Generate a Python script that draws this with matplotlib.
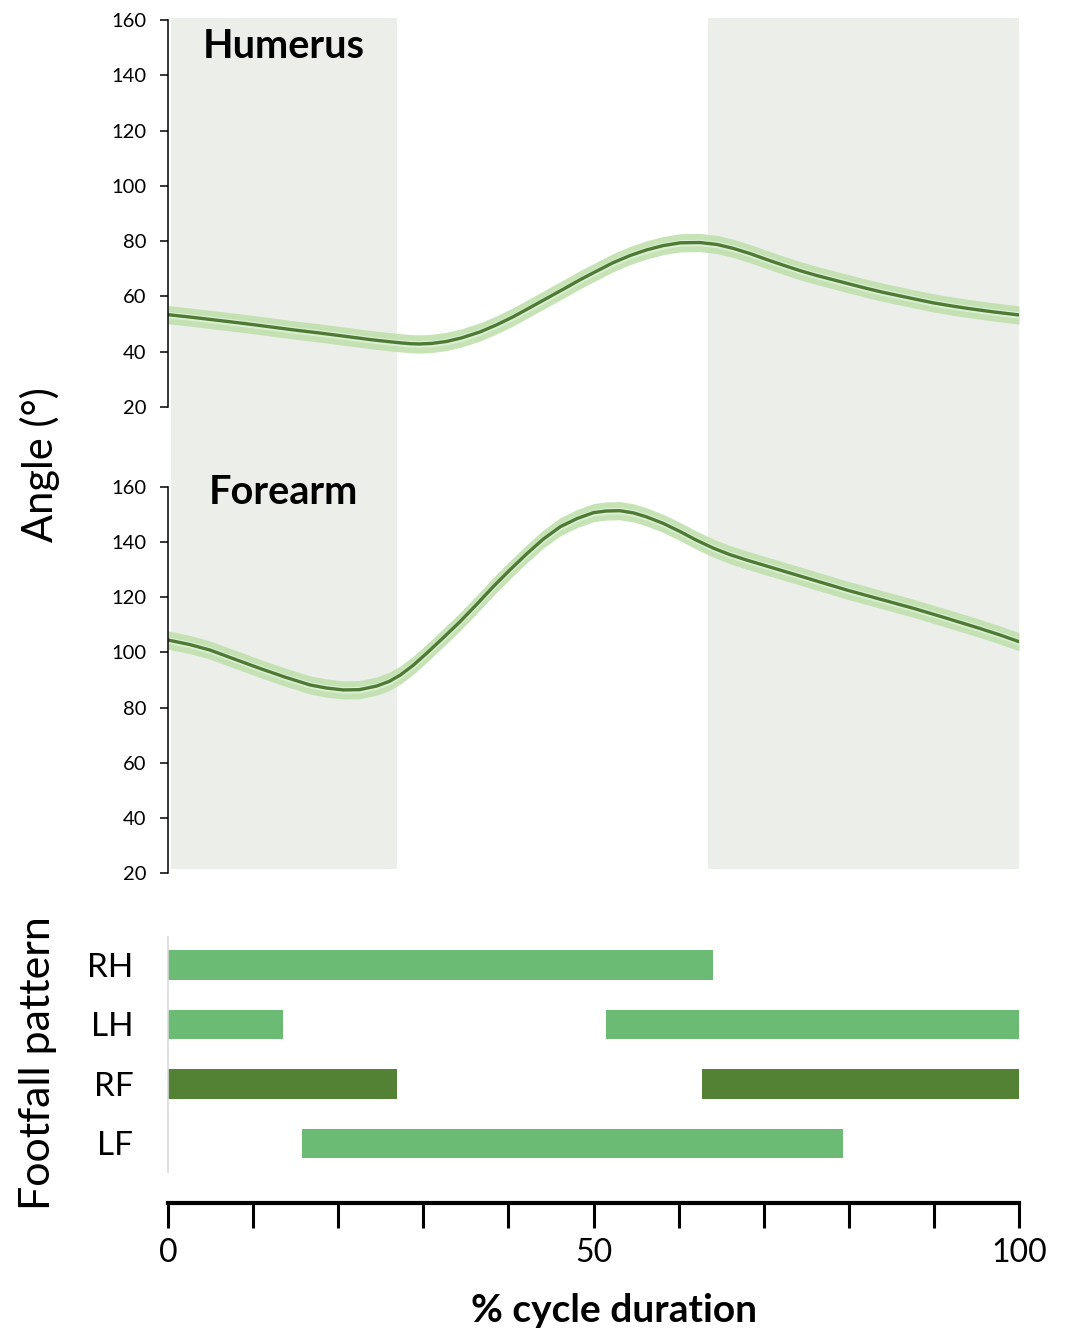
import numpy as np
import matplotlib
matplotlib.use('Agg')
import matplotlib.pyplot as plt

plt.rcParams['font.family'] = ['Lato', 'DejaVu Sans']

# %% data
hum_x = [0, 3, 6, 9, 12, 15, 18, 21, 24, 27, 28.5, 29.6, 31, 32.7, 34.5, 36.7,
         38.6, 40.6, 42.5, 44.5, 46.5, 48.4, 50.4, 52.3, 54.3, 56.2, 58.2, 60.2,
         62.5, 64.5, 66.4, 68.4, 70.3, 72.3, 74.3, 76.2, 78.2, 80.2, 82.1, 84,
         86, 88, 89.9, 92, 93.9, 97, 100]
hum_y = [53.4, 52.4, 51.3, 50.2, 49.0, 47.8, 46.7, 45.5, 44.3, 43.3, 42.9, 42.8,
         43.0, 43.7, 45.0, 47.2, 49.7, 52.7, 55.9, 59.3, 62.7, 66.0, 69.2, 72.2,
         74.8, 76.8, 78.4, 79.4, 79.5, 78.8, 77.4, 75.5, 73.4, 71.3, 69.3, 67.6,
         66.0, 64.4, 62.9, 61.5, 60.2, 58.9, 57.7, 56.6, 55.7, 54.4, 53.3]

fore_x = [0, 2.5, 4.9, 7.8, 10.8, 13.8, 16.7, 18.6, 20.6, 22.5, 24.5, 26, 27.3,
          28.8, 30.4, 32.3, 34.3, 36.3, 38.2, 40.2, 42.2, 44.1, 46.1, 48.1, 50.0,
          51.5, 53.1, 54.7, 56.2, 58.2, 60.2, 62.1, 64.1, 66, 68, 71.9, 75.8,
          79.8, 83.7, 87.6, 91.5, 95.4, 97.7, 100]
fore_y = [104.5, 102.9, 100.9, 97.6, 94.2, 91.0, 88.2, 87.1, 86.4, 86.5, 87.8,
          89.5, 91.8, 95.3, 99.7, 105.2, 111.1, 117.5, 123.8, 130.0, 135.9, 141.1,
          145.6, 148.6, 150.7, 151.3, 151.4, 150.6, 149.2, 146.8, 143.8, 140.7,
          137.8, 135.5, 133.5, 129.9, 126.3, 122.6, 119.3, 116.0, 112.4, 108.7,
          106.4, 103.9]
band = 3.3  # half width of the light band

limbs = ['RH', 'LH', 'RF', 'LF']
stance = {'RH': [(0, 64.0)],
          'LH': [(0, 13.5), (51.5, 100)],
          'RF': [(0, 26.9), (62.7, 100)],
          'LF': [(15.7, 79.3)]}
shaded = [(0.4, 26.9), (63.4, 100)]

angle_ticks = [20, 40, 60, 80, 100, 120, 140, 160]

c_light = '#6bbb75'
c_dark = '#548235'
c_line = '#4e7a36'
c_band = '#bcdfa9'
c_band_in = '#dcefd2'
c_shade = '#eceeea'

W, H = 1073, 1337


def px_rect(left, top, right, bottom):
    return [left / W, 1 - bottom / H, (right - left) / W, (bottom - top) / H]


fig = plt.figure(figsize=(W / 100, H / 100), dpi=100)

# shaded stance periods behind both angle panels
ax_bg = fig.add_axes(px_rect(168, 18, 1019, 869))
for a, b in shaded:
    ax_bg.axvspan(a, b, color=c_shade, lw=0)
ax_bg.set_xlim(0, 100)
ax_bg.set_ylim(0, 1)
ax_bg.axis('off')


def angle_panel(rect, x, y, name, name_y):
    ax = fig.add_axes(rect)
    ax.patch.set_alpha(0)
    x = np.asarray(x)
    y = np.asarray(y)
    ax.fill_between(x, y - band, y + band, color=c_band, lw=0, alpha=0.85)
    ax.fill_between(x, y - 1.2, y + 1.2, color=c_band_in, lw=0)
    ax.plot(x, y, color=c_line, lw=2.4, solid_capstyle='round')
    ax.set_xlim(0, 100)
    ax.set_ylim(20, 160)
    ax.set_yticks(angle_ticks)
    ax.set_xticks([])
    for s in ['top', 'right', 'bottom']:
        ax.spines[s].set_visible(False)
    ax.spines['left'].set_linewidth(1.1)
    ax.tick_params(axis='y', length=5.5, width=1.1, pad=10, labelsize=14.5)
    ax.text(13.6, name_y, name, ha='center', va='baseline', fontsize=28.5,
            fontweight='bold')
    return ax


angle_panel(px_rect(168, 20, 1019, 407), hum_x, hum_y, 'Humerus', 146.3)
angle_panel(px_rect(168, 487, 1019, 873), fore_x, fore_y, 'Forearm', 154.0)

# footfall pattern
ax_ff = fig.add_axes(px_rect(168, 937, 1019, 1172))
for i, limb in enumerate(limbs):
    col = c_dark if limb == 'RF' else c_light
    spans = [(a, b - a) for a, b in stance[limb]]
    ax_ff.broken_barh(spans, (i - 0.245, 0.49), facecolors=col)
ax_ff.set_xlim(0, 100)
ax_ff.set_ylim(3.48, -0.47)
ax_ff.set_yticks(range(len(limbs)))
ax_ff.set_yticklabels(limbs)
ax_ff.set_xticks([])
ax_ff.tick_params(axis='y', length=0, pad=25, labelsize=24)
for s in ['top', 'right', 'bottom']:
    ax_ff.spines[s].set_visible(False)
ax_ff.spines['left'].set_color('#d9d9d9')
ax_ff.spines['left'].set_linewidth(1.2)

# common x axis
ax_x = fig.add_axes(px_rect(168, 1190, 1019, 1203))
ax_x.patch.set_alpha(0)
ax_x.set_xlim(0, 100)
ax_x.set_yticks([])
for s in ['top', 'right', 'left']:
    ax_x.spines[s].set_visible(False)
ax_x.spines['bottom'].set_linewidth(3)
ax_x.set_xticks([0, 50, 100])
ax_x.set_xticks(np.arange(10, 100, 10), minor=True)
ax_x.tick_params(axis='x', which='both', direction='out', length=18, width=2.2,
                 pad=7, labelsize=23)
ax_x.tick_params(axis='x', which='minor', labelbottom=False)

fig.text(614 / W, 1 - 1310 / H, '% cycle duration', ha='center', va='center',
         fontsize=28, fontweight='bold')
fig.text(40 / W, 1 - 465 / H, 'Angle (°)', ha='center', va='center',
         rotation=90, fontsize=30)
fig.text(38 / W, 1 - 1063 / H, 'Footfall pattern', ha='center', va='center',
         rotation=90, fontsize=31)

fig.savefig('out.png', dpi=100)
